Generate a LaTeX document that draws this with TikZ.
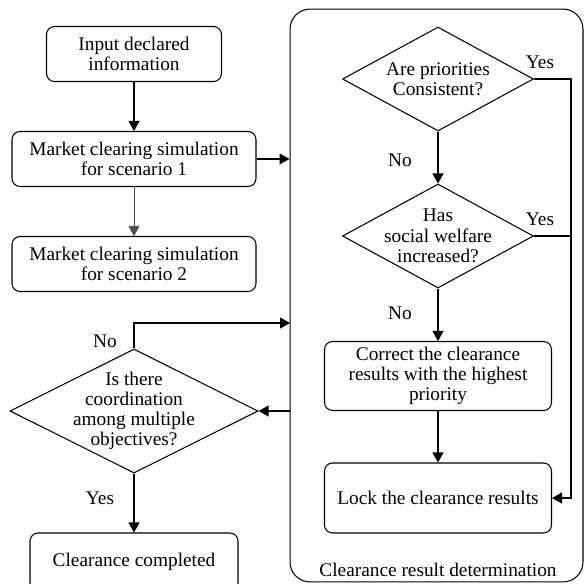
\documentclass[tikz,border=0pt]{standalone}
\usepackage{fontspec}
\setmainfont{Liberation Serif}
\usepackage{tikz}
\usetikzlibrary{shapes.geometric}
\usetikzlibrary{arrows.meta}
\tikzset{
	stepbox/.style={draw, rounded corners=0.16cm, align=center, inner sep=0pt},
	decision/.style={draw, diamond, align=center},
	arr/.style={-{Triangle[length=0.2cm, width=0.22cm]}},
	every node/.style={font=\fontsize{11}{11.5}\selectfont}
}

\begin{document}
\begin{tikzpicture}[x=0.02cm, y=-0.02cm, line width=0.6pt]

					\useasboundingbox (0,0) rectangle (585,583);

					\node[stepbox, minimum width=3.5cm, minimum height=1.1cm] (in) at (134,54) {Input declared\\information};
					\node[stepbox, minimum width=4.88cm, minimum height=1.1cm] (m1) at (134,159) {Market clearing simulation\\for scenario 1};
					\node[stepbox, minimum width=4.88cm, minimum height=1.1cm] (m2) at (134,264) {Market clearing simulation\\for scenario 2};
					\node[decision, aspect=2, inner sep=-0.1cm, minimum width=4.9cm, minimum height=2.44cm] (q3) at (134,411) {Is there\\coordination\\among multiple\\objectives?};
					\node[stepbox, minimum width=4.16cm, minimum height=1.16cm] (done) at (134,562) {Clearance completed};

					\node[draw, rounded corners=0.4cm, minimum width=5.86cm, minimum height=11.46cm] (grp) at (436.5,295.5) {};
					\node (grplabel) at (438,570) {Clearance result determination};

					\node[decision, aspect=1.84, inner sep=-0.07cm, minimum width=3.82cm, minimum height=2.08cm] (q1) at (438,79) {Are priorities\\Consistent?};
					\node[decision, aspect=1.84, inner sep=-0.07cm, minimum width=3.82cm, minimum height=2.08cm] (q2) at (438,236) {Has\\social welfare\\increased?};
					\node[stepbox, minimum width=4.54cm, minimum height=1.38cm] (fix) at (438,376) {\fontsize{11}{10}\selectfont Correct the clearance\\results with the highest\\priority};
					\node[stepbox, minimum width=4.54cm, minimum height=1.4cm] (lock) at (438,498) {Lock the clearance results};

					\coordinate (rt) at (571,0);
					\coordinate (back) at (290,323);

					\draw[arr] (in) -- (m1);
					\draw[arr, line width=0.4pt, black!70] (m1) -- (m2);
					\draw[arr] (m1.east) -- (m1.east -| grp.west);

					\draw[arr] (q1) -- (q2);
					\draw[arr] (q2) -- (fix);
					\draw[arr] (fix) -- (lock);
					\draw[arr] (q1.east) -- (q1.east -| rt) |- (lock.east);
					\draw (q2.east) -- (q2.east -| rt);

					\draw[arr] (q3.east -| grp.west) -- (q3.east);
					\draw[arr] (q3.north) |- (back);
					\draw[arr] (q3) -- (done);

					\node (yes1) at (540,62) {Yes};
					\node (yes2) at (540,219) {Yes};
					\node (no1) at (400,160) {No};
					\node (no2) at (400,313) {No};
					\node (no3) at (105,341) {No};
					\node (yes3) at (100,498) {Yes};

\end{tikzpicture}
\end{document}
